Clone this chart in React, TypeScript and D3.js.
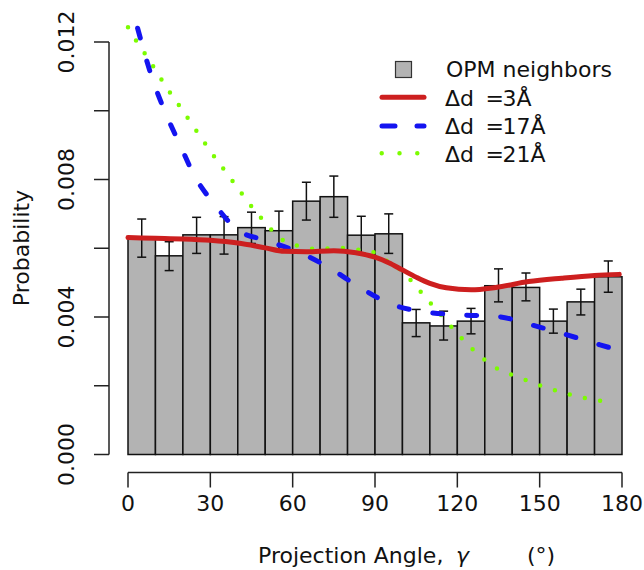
import React from "react";
import * as d3 from "d3";

// ---- data ----
const binStarts = [0, 10, 20, 30, 40, 50, 60, 70, 80, 90, 100, 110, 120, 130, 140, 150, 160, 170];
const binProb = [0.00631, 0.00578, 0.00639, 0.00639, 0.0066, 0.00651, 0.00737, 0.0075, 0.00638, 0.00642, 0.00383, 0.00374, 0.00388, 0.00491, 0.00486, 0.00388, 0.00444, 0.00517];
const errLow = [0.00574, 0.00535, 0.00585, 0.00583, 0.00614, 0.00595, 0.00682, 0.0069, 0.00585, 0.00585, 0.00343, 0.00333, 0.00351, 0.00444, 0.00447, 0.00353, 0.00406, 0.00472];
const errHigh = [0.00685, 0.00619, 0.0069, 0.00692, 0.00705, 0.00708, 0.00792, 0.0081, 0.00693, 0.007, 0.00422, 0.00417, 0.00425, 0.0054, 0.00528, 0.00423, 0.00481, 0.00563];

const d3Angle = [0, 10, 20, 30, 40, 50, 57, 65, 75, 83, 90, 95, 100, 105, 110, 116, 125, 134, 146, 158, 170, 179];
const d3Prob = [0.00631, 0.00629, 0.00627, 0.00623, 0.00615, 0.00601, 0.00591, 0.0059, 0.00593, 0.00587, 0.00574, 0.00558, 0.00537, 0.00516, 0.00498, 0.00485, 0.00479, 0.00486, 0.00503, 0.00513, 0.00521, 0.00524];

const d17Angle = [3.5, 9, 13.5, 19, 24.4, 31.7, 40, 50.5, 62.7, 73.6, 84.5, 96, 108.8, 122, 135, 147, 160, 172, 175.5];
const d17Prob = [0.0124, 0.0109, 0.00997, 0.009, 0.00808, 0.00726, 0.00653, 0.00622, 0.00587, 0.00542, 0.00486, 0.00437, 0.00414, 0.00406, 0.00401, 0.00377, 0.00348, 0.00319, 0.00311];

const d21Angle = [0, 3.4, 7, 10.4, 14, 17.7, 21.4, 25, 28.7, 32.3, 36.2, 40.2, 43.9, 48.1, 52.4, 57.3, 63.4, 69.7, 76, 82.5, 88.8, 94.2, 99.7, 104, 108.2, 112.5, 116.7, 121, 125.6, 130.5, 135.9, 141.9, 148, 154, 160.3, 166.5, 172.9];
const d21Prob = [0.01243, 0.01198, 0.01156, 0.01114, 0.01068, 0.01026, 0.00983, 0.00941, 0.00898, 0.00857, 0.00816, 0.00773, 0.00733, 0.00692, 0.00653, 0.00619, 0.00605, 0.00597, 0.00602, 0.00597, 0.0059, 0.00564, 0.00535, 0.00498, 0.00459, 0.0042, 0.00382, 0.00343, 0.00306, 0.00272, 0.00244, 0.00226, 0.00207, 0.00191, 0.00176, 0.00164, 0.00155];

const xTicks = [0, 30, 60, 90, 120, 150, 180];
const yTicks = [0, 0.002, 0.004, 0.006, 0.008, 0.01, 0.012];
const yLabels = ["0.000", "0.004", "0.008", "0.012"];
const yLabelValues = [0, 0.004, 0.008, 0.012];

const legendLabels = ["OPM neighbors", "3Å", "17Å", "21Å"];

const FONT = "'DejaVu Sans', sans-serif";
const FS = 22;
const RED = "#cd1f1f";
const BLUE = "#1414f0";
const GREEN = "#7cfc00";

export default function App() {
  const x = d3.scaleLinear().domain([0, 180]).range([128, 622]);
  const y = d3.scaleLinear().domain([0, 0.012]).range([454.5, 42]);
  const binW = 10;

  const line = d3
    .line<[number, number]>()
    .x((d) => x(d[0]))
    .y((d) => y(d[1]))
    .curve(d3.curveMonotoneX);

  const redPath = line(d3Angle.map((a, i) => [a, d3Prob[i]] as [number, number])) || "";
  const bluePath = line(d17Angle.map((a, i) => [a, d17Prob[i]] as [number, number])) || "";
  const greenPath = line(d21Angle.map((a, i) => [a, d21Prob[i]] as [number, number])) || "";

  const axisY = 472.5;
  const yAxisX = 109;

  return (
    <svg
      width={644}
      height={570}
      style={{ position: "absolute", left: 0, top: 0, background: "#fff" }}
      fontFamily={FONT}
    >
      <rect x={0} y={0} width={644} height={570} fill="#fff" />
      {/* bars */}
      {binStarts.map((s, i) => (
        <rect
          key={"b" + i}
          x={x(s)}
          y={y(binProb[i])}
          width={x(s + binW) - x(s)}
          height={y(0) - y(binProb[i])}
          fill="#b3b3b3"
          stroke="#111"
          strokeWidth={1.5}
        />
      ))}
      {/* error bars */}
      {binStarts.map((s, i) => {
        const cx = x(s + binW / 2);
        return (
          <g key={"e" + i} stroke="#111" strokeWidth={1.5} fill="none">
            <line x1={cx} x2={cx} y1={y(errLow[i])} y2={y(errHigh[i])} />
            <line x1={cx - 4.5} x2={cx + 4.5} y1={y(errLow[i])} y2={y(errLow[i])} />
            <line x1={cx - 4.5} x2={cx + 4.5} y1={y(errHigh[i])} y2={y(errHigh[i])} />
          </g>
        );
      })}
      {/* lines */}
      <path d={greenPath} fill="none" stroke={GREEN} strokeWidth={4.5} strokeLinecap="round" strokeDasharray="0 15.5" />
      <path d={bluePath} fill="none" stroke={BLUE} strokeWidth={5} strokeLinecap="round" strokeDasharray="10 24" />
      <path d={redPath} fill="none" stroke={RED} strokeWidth={5} strokeLinecap="round" />

      {/* y axis */}
      <g stroke="#222" strokeWidth={1.5} fill="none">
        <line x1={yAxisX} x2={yAxisX} y1={y(0)} y2={y(0.012)} />
        {yTicks.map((t) => (
          <line key={"yt" + t} x1={yAxisX - 15} x2={yAxisX} y1={y(t)} y2={y(t)} />
        ))}
      </g>
      {yLabelValues.map((v, i) => (
        <text
          key={"yl" + i}
          transform={`translate(73.5,${y(v)}) rotate(-90)`}
          textAnchor="middle"
          fontSize={FS}
          fill="#111"
        >
          {yLabels[i]}
        </text>
      ))}
      <text transform={`translate(29,248) rotate(-90)`} textAnchor="middle" fontSize={FS} fill="#111">
        Probability
      </text>

      {/* x axis */}
      <g stroke="#222" strokeWidth={1.5} fill="none">
        <line x1={x(0)} x2={x(180)} y1={axisY} y2={axisY} />
        {xTicks.map((t) => (
          <line key={"xt" + t} x1={x(t)} x2={x(t)} y1={axisY} y2={axisY + 15} />
        ))}
      </g>
      {xTicks.map((t) => (
        <text key={"xl" + t} x={x(t)} y={511} textAnchor="middle" fontSize={FS} fill="#111">
          {t}
        </text>
      ))}
      <text y={563} fontSize={FS} fill="#111">
        <tspan x={258}>Projection Angle,</tspan>
        <tspan x={456} fontStyle="italic">γ</tspan>
        <tspan x={527}>(°)</tspan>
      </text>

      {/* legend */}
      <rect x={395.5} y={61.5} width={16} height={16} fill="#b3b3b3" stroke="#333" strokeWidth={1.2} />
      <text x={446} y={77} fontSize={FS} fill="#111">
        {legendLabels[0]}
      </text>
      <line x1={382} x2={424} y1={97.3} y2={97.3} stroke={RED} strokeWidth={5} strokeLinecap="round" />
      <line x1={382} x2={424} y1={126} y2={126} stroke={BLUE} strokeWidth={5} strokeLinecap="round" strokeDasharray="13 22" />
      <line x1={381.7} x2={424} y1={153.3} y2={153.3} stroke={GREEN} strokeWidth={4.5} strokeLinecap="round" strokeDasharray="0 17.8" />
      {[105.7, 134, 161.7].map((by, i) => (
        <text key={"lg" + i} y={by} fontSize={FS} fill="#111">
          <tspan x={445}>Δd</tspan>
          <tspan x={485.5}>=</tspan>
          <tspan x={502.5}>{legendLabels[i + 1]}</tspan>
        </text>
      ))}
    </svg>
  );
}
